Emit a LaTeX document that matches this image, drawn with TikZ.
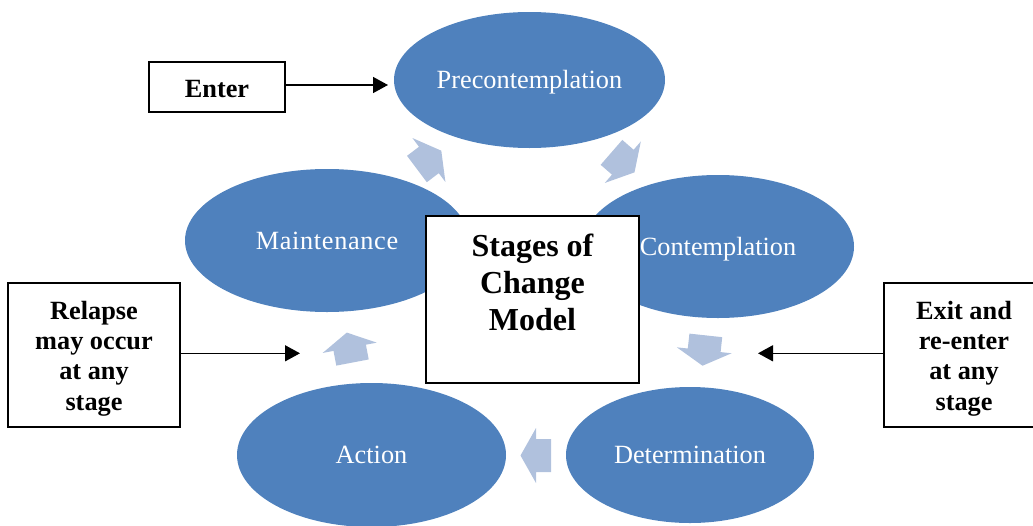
\documentclass[tikz,border=0pt]{standalone}
\usepackage{fontspec}
\setmainfont{Liberation Serif}
\usetikzlibrary{shapes.geometric,arrows.meta}
\definecolor{stageblue}{HTML}{4F81BD}
\definecolor{cyclelight}{HTML}{B0C1DD}
\tikzset{
  stage/.style={ellipse, fill=stageblue, draw=none, inner sep=0pt, outer sep=0pt,
    text=white, font=\fontsize{26.3}{30}\selectfont, text height=17.4pt, text depth=0pt},
  framebox/.style={rectangle, draw=black, line width=1.7pt, fill=white, inner sep=0pt},
  boldtext/.style={align=center, font=\bfseries\fontsize{26.3}{30.3}\selectfont, inner sep=0pt},
  titletext/.style={align=center, font=\bfseries\fontsize{32}{36.75}\selectfont, inner sep=0pt},
  conn/.style={line width=1.5pt, -{Triangle[length=15pt,width=16pt]}},
  cyclearrow/.pic={\fill[cyclelight] (-15,-16.5) -- (0,-16.5) -- (0,-27.5) -- (15.5,0) -- (0,27.5) -- (0,16.5) -- (-15,16.5) -- cycle;}
}
\begin{document}
\begin{tikzpicture}[x=1pt,y=-1pt]
\useasboundingbox (0,0) rectangle (1033,525);
\clip (0,0) rectangle (1033,525);
% stages
\node[stage, minimum width=271pt, minimum height=136pt] (pre) at (529.5,80) {Precontemplation};
\node[stage, minimum width=272pt, minimum height=143pt] (cont) at (718,246.5) {Contemplation};
\node[stage, minimum width=248pt, minimum height=136pt] (det) at (690,455) {Determination};
\node[stage, minimum width=269pt, minimum height=144pt] (act) at (371.5,455) {Action};
\node[stage, minimum width=284pt, minimum height=143pt] (maint) at (327,240.5) {\addfontfeature{LetterSpace=2.5}Maintenance};
% cycle arrows
\pic[rotate=36.9] at (428.9,160) {cyclearrow};
\pic[rotate=-41] at (622.8,162.2) {cyclearrow};
\pic[rotate=-96.2] at (704.2,350.3) {cyclearrow};
\pic[rotate=180] at (536,455.5) {cyclearrow};
\pic[rotate=100.8] at (349.7,347.8) {cyclearrow};
% central box
\node[framebox, minimum width=213pt, minimum height=167pt] (model) at (532.5,299.5) {};
\node[titletext] (modeltext) at (532.5,282.5) {Stages of\\Change\\Model};
% side boxes
\node[framebox, minimum width=136pt, minimum height=50pt] (enterbox) at (217,87) {};
\node[boldtext] (entertext) at (217,89.5) {Enter};
\node[framebox, minimum width=172pt, minimum height=144pt] (relapse) at (94,355) {};
\node[boldtext] (relapsetext) at (94,358.5) {Relapse\\may occur\\at any\\stage};
\node[framebox, minimum width=162pt, minimum height=144pt] (exitbox) at (965,355) {};
\node[boldtext] (exittext) at (964,358.5) {Exit and\\re-enter\\at any\\stage};
% connectors
\coordinate (enterend) at (388,85);
\coordinate (relapseend) at (300,353.3);
\coordinate (exitend) at (758,353.3);
\draw[conn] (enterbox.east |- enterend) -- (enterend);
\draw[conn] (relapse.east |- relapseend) -- (relapseend);
\draw[conn] (exitbox.west |- exitend) -- (exitend);
\end{tikzpicture}
\end{document}
